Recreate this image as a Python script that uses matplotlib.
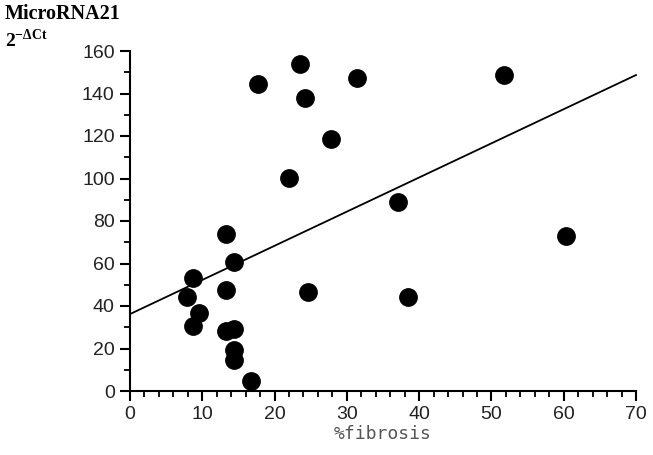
import matplotlib
matplotlib.use("Agg")
import matplotlib.pyplot as plt
import numpy as np
from matplotlib.ticker import MultipleLocator

fibrosis = [8.7, 7.9, 9.5, 8.7, 13.3, 13.3, 14.4, 13.3, 14.4, 14.4, 14.4, 16.7,
            17.7, 22.0, 23.5, 24.2, 24.6, 27.8, 31.4, 37.1, 38.5, 51.7, 60.3]
mir21 = [53.2, 44.2, 36.7, 30.6, 73.9, 47.5, 60.7, 28.2, 29.2, 19.3, 14.6, 4.7,
         144.5, 100.2, 153.9, 137.9, 46.6, 118.6, 147.3, 88.9, 44.2, 148.7, 72.9]
fit_intercept = 36.2
fit_slope = 1.607
x_ticks = [0, 10, 20, 30, 40, 50, 60, 70]
y_ticks = [0, 20, 40, 60, 80, 100, 120, 140, 160]

fig = plt.figure(figsize=(6.53, 4.55), dpi=100)
ax = fig.add_axes([130/653, 1-391/455, (636-130)/653, (391-51)/455])

tick_font = ['Liberation Sans Narrow', 'Liberation Sans', 'DejaVu Sans']

ax.plot(fibrosis, mir21, 'o', color='black', markersize=12.5, zorder=3, clip_on=False)
xl = np.array([0, 70])
ax.plot(xl, fit_intercept + fit_slope * xl, color='black', lw=1.3, clip_on=False)

ax.set_xlim(0, 70)
ax.set_ylim(0, 160)
ax.set_xticks(x_ticks)
ax.set_yticks(y_ticks)
ax.xaxis.set_minor_locator(MultipleLocator(2))
ax.yaxis.set_minor_locator(MultipleLocator(10))
for s in ['top', 'right']:
    ax.spines[s].set_visible(False)
for s in ['left', 'bottom']:
    ax.spines[s].set_linewidth(1.5)
ax.tick_params(which='major', direction='out', length=7, width=1.5, pad=4)
ax.tick_params(which='minor', direction='out', length=4, width=1.3)
for lab in ax.get_xticklabels() + ax.get_yticklabels():
    lab.set_fontfamily(tick_font)
    lab.set_fontsize(14)
    lab.set_color('#222222')

ax.set_xlabel('%fibrosis', fontsize=13, family=['DejaVu Sans Mono'], color='#555555', labelpad=1)

fig.text(5/653, 1-14/455, 'MicroRNA21', fontsize=14.5, fontweight='bold',
         family=['Liberation Serif', 'DejaVu Serif'], va='center', ha='left')
fig.text(5/653, 1-40/455, r'2$^{\mathregular{-\Delta Ct}}$', fontsize=14, fontweight='bold',
         family=['Liberation Serif', 'DejaVu Serif'], va='center', ha='left')

fig.savefig('out.png', dpi=100)
